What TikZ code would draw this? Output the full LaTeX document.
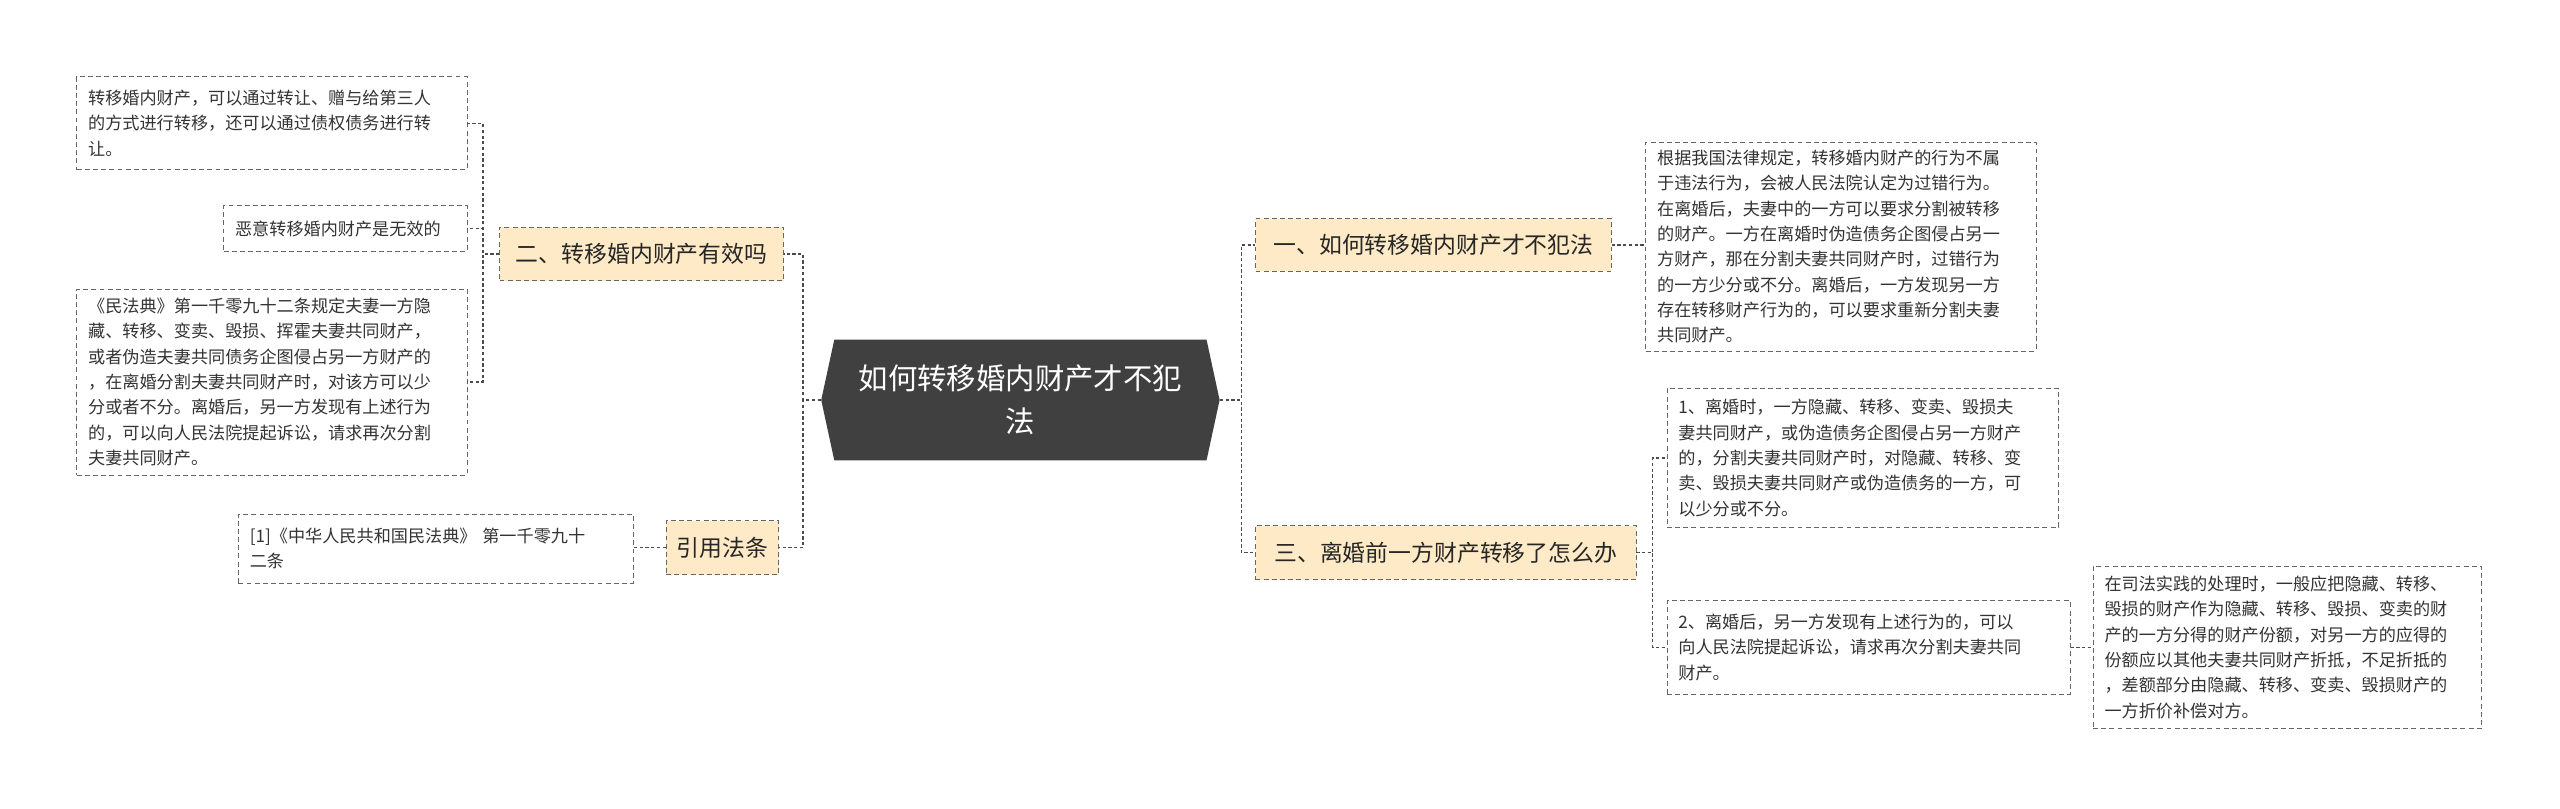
\documentclass[tikz,border=0pt]{standalone}
\usepackage{fontspec}
\setmainfont{Noto Sans CJK SC}
\begin{document}
\begin{tikzpicture}[x=1pt,y=-1pt,
 leaf/.style={draw=black!60,dashed,dash pattern=on 3pt off 2pt,fill=white,align=left,inner sep=0pt,font=\fontsize{10.5}{15.5}\selectfont,text=black!80},
 br/.style={draw=black!60,dashed,dash pattern=on 3pt off 2pt,fill=yellow!25!orange!20,font=\fontsize{14}{18}\selectfont,text=black!85,inner sep=0pt},
 ln/.style={draw=black!70,dashed,dash pattern=on 2pt off 1.5pt,line width=0.8pt}]
\useasboundingbox (0,0) rectangle (1568,495);
\fill[white] (0,0) rectangle (1568,495);
\fill[black!75] (503,245)--(511,208)--(739,208)--(747,245)--(739,282)--(511,282)--cycle;
\node[text=white,align=center,font=\fontsize{18}{26}\selectfont,minimum width=244pt,minimum height=74pt] (c) at (625,245) {如何转移婚内财产才不犯\\法};
\node[br,minimum width=218pt,minimum height=32pt] (r1) at (878,150) {一、如何转移婚内财产才不犯法};
\node[br,minimum width=233pt,minimum height=33pt] (r3) at (885.5,338.5) {三、离婚前一方财产转移了怎么办};
\node[br,minimum width=174pt,minimum height=33pt] (l2) at (393,155.5) {二、转移婚内财产有效吗};
\node[br,minimum width=69pt,minimum height=33pt] (q) at (442.5,335.5) {引用法条};
\node[leaf,minimum width=239pt,minimum height=128pt,text width=225pt] (r1l) at (1127.5,151) {根据我国法律规定，转移婚内财产的行为不属\\于违法行为，会被人民法院认定为过错行为。\\在离婚后，夫妻中的一方可以要求分割被转移\\的财产。一方在离婚时伪造债务企图侵占另一\\方财产，那在分割夫妻共同财产时，过错行为\\的一方少分或不分。离婚后，一方发现另一方\\存在转移财产行为的，可以要求重新分割夫妻\\共同财产。};
\node[leaf,minimum width=240pt,minimum height=85pt,text width=226pt] (r3a) at (1141,280.5) {1、离婚时，一方隐藏、转移、变卖、毁损夫\\妻共同财产，或伪造债务企图侵占另一方财产\\的，分割夫妻共同财产时，对隐藏、转移、变\\卖、毁损夫妻共同财产或伪造债务的一方，可\\以少分或不分。};
\node[leaf,minimum width=247pt,minimum height=57pt,text width=233pt] (r3b) at (1144.5,396.5) {2、离婚后，另一方发现有上述行为的，可以\\向人民法院提起诉讼，请求再次分割夫妻共同\\财产。};
\node[leaf,minimum width=238pt,minimum height=99pt,text width=224pt] (ch) at (1401,396.5) {在司法实践的处理时，一般应把隐藏、转移、\\毁损的财产作为隐藏、转移、毁损、变卖的财\\产的一方分得的财产份额，对另一方的应得的\\份额应以其他夫妻共同财产折抵，不足折抵的\\，差额部分由隐藏、转移、变卖、毁损财产的\\一方折价补偿对方。};
\node[leaf,minimum width=239pt,minimum height=57pt,text width=225pt] (la) at (166.5,75.5) {转移婚内财产，可以通过转让、赠与给第三人\\的方式进行转移，还可以通过债权债务进行转\\让。};
\node[leaf,minimum width=149pt,minimum height=28pt,text width=135pt] (lb) at (211.5,140) {恶意转移婚内财产是无效的};
\node[leaf,minimum width=239pt,minimum height=114pt,text width=225pt] (lc) at (166.5,234) {《民法典》第一千零九十二条规定夫妻一方隐\\藏、转移、变卖、毁损、挥霍夫妻共同财产，\\或者伪造夫妻共同债务企图侵占另一方财产的\\，在离婚分割夫妻共同财产时，对该方可以少\\分或者不分。离婚后，另一方发现有上述行为\\的，可以向人民法院提起诉讼，请求再次分割\\夫妻共同财产。};
\node[leaf,minimum width=242pt,minimum height=42pt,text width=228pt] (ql) at (267,336) {[1]《中华人民共和国民法典》 第一千零九十\\二条};
\draw[ln] (c.east) -- ++(13,0) |- (r1.west);
\draw[ln] (c.east) -- ++(13,0) |- (r3.west);
\draw[ln] (c.west) -- ++(-11,0) |- (l2.east);
\draw[ln] (c.west) -- ++(-11,0) |- (q.east);
\draw[ln] (r1.east) -- (r1l.west|-r1.east);
\draw[ln] (r3.east) -- ++(10,0) |- (r3a.west);
\draw[ln] (r3.east) -- ++(10,0) |- (r3b.west);
\draw[ln] (r3b.east) -- (ch.west|-r3b.east);
\draw[ln] (l2.west) -- ++(-10,0) |- (la.east);
\draw[ln] (l2.west) -- ++(-10,0) |- (lb.east);
\draw[ln] (l2.west) -- ++(-10,0) |- (lc.east);
\draw[ln] (q.west) -- (ql.east|-q.west);
\end{tikzpicture}
\end{document}
